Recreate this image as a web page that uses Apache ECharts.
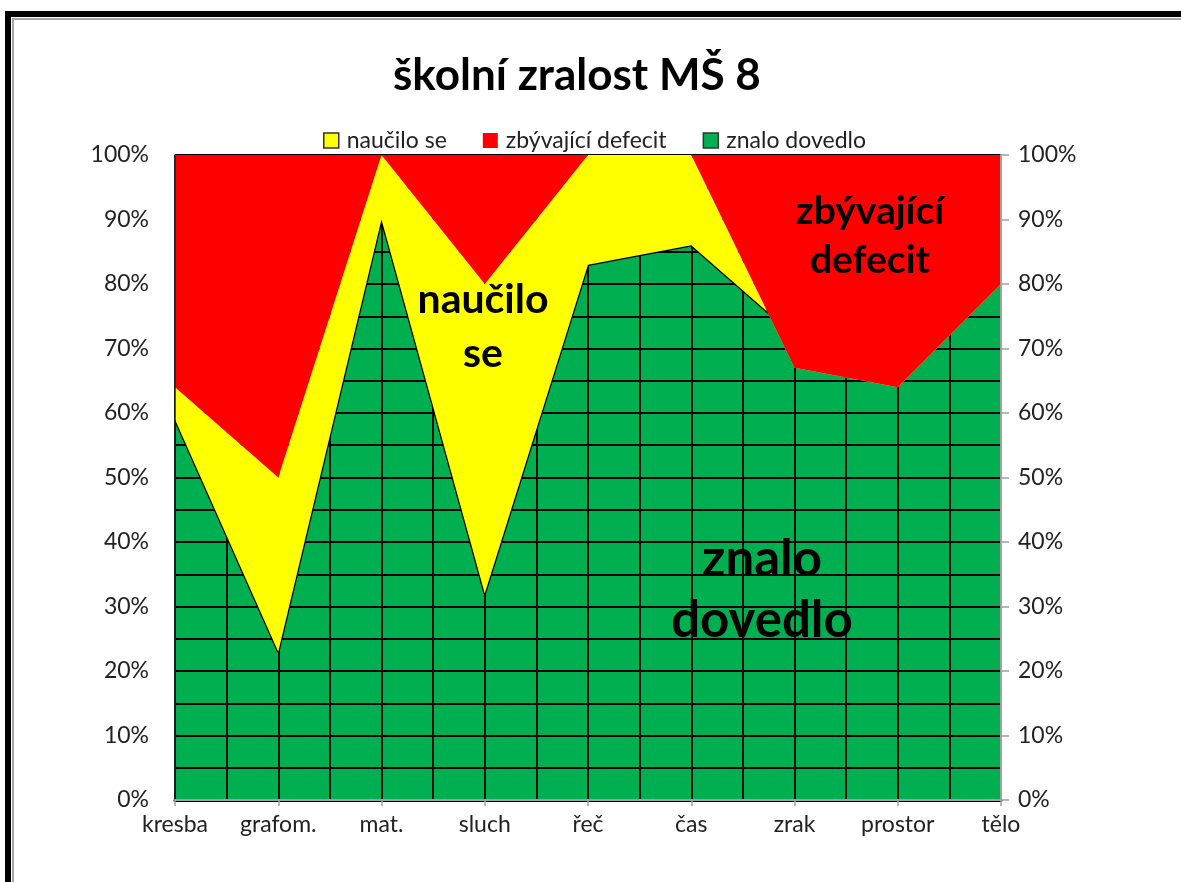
<!DOCTYPE html>
<html>
<head>
<meta charset="utf-8">
<script src="https://cdn.jsdelivr.net/npm/echarts@6/dist/echarts.min.js"></script>
<style>
  html, body { margin: 0; padding: 0; background: #fff; }
  #chart { position: absolute; left: 0; top: 0; width: 1181px; height: 882px; }
  .frame { position: absolute; left: 5px; top: 11px; width: 1200px; height: 900px;
           border-left: 6px solid #000; border-top: 6px solid #000; pointer-events: none; }
  .inner { position: absolute; left: 12px; top: 18px; width: 1200px; height: 862px;
           border-left: 2px solid #a6a6a6; border-top: 2px solid #a6a6a6;
           border-bottom: 2px solid #a6a6a6; pointer-events: none; }
</style>
</head>
<body>
<div id="chart"></div>
<div class="frame"></div>
<div class="inner"></div>
<script>
// kategorie a hodnoty (v %)
const categories = ['kresba', 'grafom.', 'mat.', 'sluch', 'řeč', 'čas', 'zrak', 'prostor', 'tělo']
const znalo = [59, 23, 90, 32, 83, 86, 72, 70, 83]
const naucilo = [5, 27, 10, 48, 17, 14, -5, -6, -3]
const deficit = [36, 50, 0, 20, 0, 0, 33, 36, 20]

const FONT = 'Lato, "Open Sans", sans-serif'

const chart = echarts.init(document.getElementById('chart'))

const option = {
  animation: false,
  backgroundColor: 'transparent',
  title: {
    text: 'školní zralost MŠ 8',
    left: 388,
    top: 49,
    textStyle: { fontFamily: FONT, fontSize: 44, fontWeight: 'bold', color: '#000' }
  },
  legend: {
    top: 124,
    left: 318,
    itemWidth: 15,
    itemHeight: 15,
    itemGap: 36,
    icon: 'rect',
    textStyle: { fontFamily: FONT, fontSize: 23, color: '#222', padding: [0, 0, 0, 3] },
    data: [
      { name: 'naučilo se', itemStyle: { color: '#ffff00', borderColor: '#333', borderWidth: 1.5 } },
      { name: 'zbývající defecit', itemStyle: { color: '#ff0000', borderWidth: 0 } },
      { name: 'znalo dovedlo', itemStyle: { color: '#00b050', borderColor: '#333', borderWidth: 1.5 } }
    ]
  },
  grid: { left: 175, right: 180, top: 155, bottom: 82 },
  xAxis: [
    {
      type: 'category',
      data: categories,
      boundaryGap: false,
      position: 'bottom',
      z: 6,
      axisLine: { lineStyle: { color: '#000', width: 3 } },
      axisTick: { show: false },
      axisLabel: { interval: 0, fontFamily: FONT, fontSize: 23, color: '#222', margin: 13 },
      splitLine: { show: false }
    },
    {
      type: 'category',
      data: categories,
      boundaryGap: false,
      position: 'top',
      z: 6,
      axisLine: { lineStyle: { color: '#a0a0a0', width: 2 } },
      axisTick: { show: true, inside: true, interval: 0, length: 6, lineStyle: { color: '#a0a0a0', width: 1.5 } },
      axisLabel: { show: false },
      splitLine: { show: false }
    },
    {
      // mřížka ve výplni zelené plochy
      type: 'value',
      min: 0,
      max: categories.length - 1,
      interval: 0.5,
      show: true,
      z: 3,
      axisLine: { show: false },
      axisTick: { show: false },
      axisLabel: { show: false },
      splitLine: { show: true, lineStyle: { color: '#000', width: 1.8 } }
    }
  ],
  yAxis: [
    {
      type: 'value',
      min: 0,
      max: 100,
      interval: 10,
      position: 'left',
      z: 6,
      axisLine: { show: true, lineStyle: { color: '#222', width: 1.5 } },
      axisTick: { show: false },
      axisLabel: { formatter: '{value}%', fontFamily: FONT, fontSize: 23, color: '#222', margin: 26 },
      splitLine: { show: false }
    },
    {
      type: 'value',
      min: 0,
      max: 100,
      interval: 10,
      position: 'right',
      z: 6,
      axisLine: { show: true, lineStyle: { color: '#a0a0a0', width: 2 } },
      axisTick: { show: true, length: 8, lineStyle: { color: '#a0a0a0', width: 1.5 } },
      axisLabel: { formatter: '{value}%', fontFamily: FONT, fontSize: 23, color: '#222', margin: 17 },
      splitLine: { show: false }
    },
    {
      type: 'value',
      min: 0,
      max: 100,
      interval: 5,
      show: true,
      z: 3,
      axisLine: { show: false },
      axisTick: { show: false },
      axisLabel: { show: false },
      splitLine: { show: true, lineStyle: { color: '#000', width: 1.8 } }
    }
  ],
  series: [
    {
      name: 'znalo dovedlo',
      type: 'line',
      stack: 'total',
      stackStrategy: 'all',
      z: 2,
      symbol: 'none',
      data: znalo,
      lineStyle: { color: '#000', width: 2.5 },
      itemStyle: { color: '#00b050' },
      areaStyle: { color: '#00b050', opacity: 1 }
    },
    {
      name: 'naučilo se',
      type: 'line',
      stack: 'total',
      stackStrategy: 'all',
      z: 4,
      symbol: 'none',
      data: naucilo,
      lineStyle: { width: 0 },
      itemStyle: { color: '#ffff00' },
      areaStyle: { color: '#ffff00', opacity: 1 }
    },
    {
      name: 'zbývající defecit',
      type: 'line',
      stack: 'total',
      stackStrategy: 'all',
      z: 5,
      symbol: 'none',
      data: deficit,
      lineStyle: { width: 0 },
      itemStyle: { color: '#ff0000' },
      areaStyle: { color: '#ff0000', opacity: 1 }
    }
  ],
  graphic: [
    {
      type: 'text', z: 10, x: 483, y: 327,
      style: { text: 'naučilo\nse', textAlign: 'center', textVerticalAlign: 'middle',
               font: 'bold 41px ' + FONT, lineHeight: 54, fill: '#000' }
    },
    {
      type: 'text', z: 10, x: 870, y: 236,
      style: { text: 'zbývající\ndefecit', textAlign: 'center', textVerticalAlign: 'middle',
               font: 'bold 39px ' + FONT, lineHeight: 49, fill: '#000' }
    },
    {
      type: 'text', z: 10, x: 762, y: 590,
      style: { text: 'znalo\ndovedlo', textAlign: 'center', textVerticalAlign: 'middle',
               font: 'bold 51px ' + FONT, lineHeight: 61, fill: '#000' }
    }
  ]
}

chart.setOption(option)
</script>
</body>
</html>
